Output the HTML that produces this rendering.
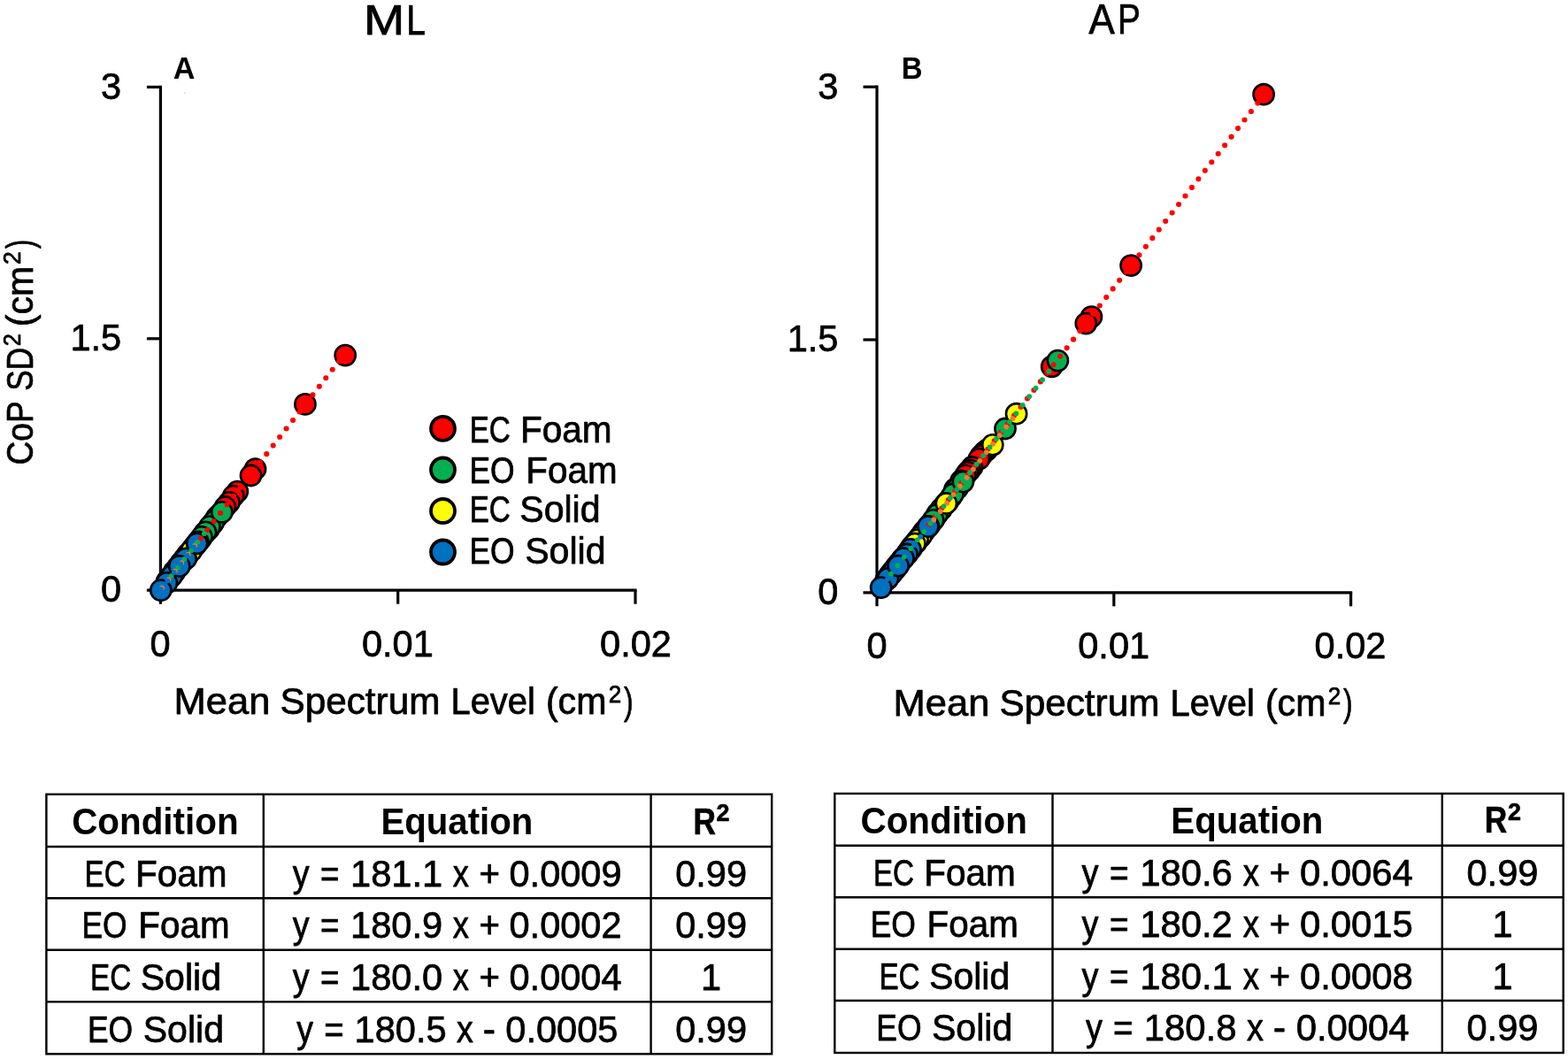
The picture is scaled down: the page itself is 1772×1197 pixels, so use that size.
<!DOCTYPE html>
<html lang="en">
<head>
<meta charset="utf-8">
<title>CoP SD vs Mean Spectrum Level</title>
<style>
html,body{margin:0;padding:0;background:#fff;}
body{width:1772px;height:1197px;overflow:hidden;}
svg{display:block;font-family:"Liberation Sans",sans-serif;font-kerning:none;}
text{white-space:pre;}
</style>
</head>
<body>
<svg width="1772" height="1197" viewBox="0 0 1772 1197">
<rect width="1772" height="1197" fill="#fff"/>
<g stroke="#000" stroke-width="3.20" fill="none" stroke-linecap="butt">
<path d="M181.40 96.80 V682.70"/>
<path d="M165.90 667.20 H719.60"/>
<path d="M165.90 98.40 H181.40"/>
<path d="M165.90 382.80 H181.40"/>
<path d="M449.70 667.20 V682.70"/>
<path d="M718.00 667.20 V682.70"/>
</g>
<g stroke="#000" stroke-width="2.60">
<circle cx="390.2" cy="401.6" r="11.60" fill="#ff0000"/>
<circle cx="344.9" cy="456.9" r="11.60" fill="#ff0000"/>
<circle cx="288.5" cy="530.2" r="11.60" fill="#ff0000"/>
<circle cx="283.5" cy="537.5" r="11.60" fill="#ff0000"/>
<circle cx="268.3" cy="555.6" r="11.60" fill="#ff0000"/>
<circle cx="263.8" cy="560.6" r="11.60" fill="#ff0000"/>
<circle cx="259.0" cy="567.8" r="11.60" fill="#ff0000"/>
<circle cx="254.5" cy="573.0" r="11.60" fill="#ff0000"/>
<circle cx="250.0" cy="579.5" r="11.60" fill="#ff0000"/>
<circle cx="245.0" cy="584.5" r="11.60" fill="#ff0000"/>
<circle cx="240.5" cy="591.6" r="11.60" fill="#ff0000"/>
<circle cx="236.0" cy="597.9" r="11.60" fill="#ff0000"/>
<circle cx="231.5" cy="602.1" r="11.60" fill="#ff0000"/>
<circle cx="227.0" cy="608.8" r="11.60" fill="#ff0000"/>
<circle cx="223.0" cy="613.0" r="11.60" fill="#ff0000"/>
<circle cx="219.7" cy="617.7" r="11.60" fill="#ff0000"/>
<circle cx="216.6" cy="621.6" r="11.60" fill="#ff0000"/>
<circle cx="212.8" cy="625.7" r="11.60" fill="#ff0000"/>
<circle cx="208.8" cy="630.8" r="11.60" fill="#ff0000"/>
<circle cx="204.9" cy="635.8" r="11.60" fill="#ff0000"/>
<circle cx="201.8" cy="640.4" r="11.60" fill="#ff0000"/>
<circle cx="197.1" cy="645.9" r="11.60" fill="#ff0000"/>
<circle cx="241.5" cy="589.8" r="11.60" fill="#00b050"/>
<circle cx="237.0" cy="595.1" r="11.60" fill="#00b050"/>
<circle cx="232.5" cy="601.4" r="11.60" fill="#00b050"/>
<circle cx="228.0" cy="606.9" r="11.60" fill="#00b050"/>
<circle cx="224.0" cy="612.5" r="11.60" fill="#00b050"/>
<circle cx="220.0" cy="617.3" r="11.60" fill="#00b050"/>
<circle cx="215.1" cy="623.5" r="11.60" fill="#00b050"/>
<circle cx="211.3" cy="628.9" r="11.60" fill="#00b050"/>
<circle cx="208.2" cy="632.7" r="11.60" fill="#00b050"/>
<circle cx="204.6" cy="636.3" r="11.60" fill="#00b050"/>
<circle cx="201.4" cy="640.7" r="11.60" fill="#00b050"/>
<circle cx="196.8" cy="646.4" r="11.60" fill="#00b050"/>
<circle cx="192.6" cy="652.4" r="11.60" fill="#00b050"/>
<circle cx="188.9" cy="657.1" r="11.60" fill="#00b050"/>
<circle cx="250.8" cy="578.9" r="11.60" fill="#00b050"/>
<circle cx="212.0" cy="626.8" r="11.60" fill="#ffff00"/>
<circle cx="208.6" cy="632.0" r="11.60" fill="#ffff00"/>
<circle cx="204.7" cy="636.4" r="11.60" fill="#ffff00"/>
<circle cx="200.6" cy="641.9" r="11.60" fill="#ffff00"/>
<circle cx="197.0" cy="647.0" r="11.60" fill="#ffff00"/>
<circle cx="192.6" cy="651.9" r="11.60" fill="#ffff00"/>
<circle cx="188.4" cy="657.6" r="11.60" fill="#ffff00"/>
<circle cx="216.2" cy="622.6" r="11.60" fill="#ffff00"/>
<circle cx="210.1" cy="631.4" r="11.60" fill="#0070c0"/>
<circle cx="194.5" cy="650.6" r="11.60" fill="#0070c0"/>
<circle cx="188.4" cy="658.8" r="11.60" fill="#0070c0"/>
<circle cx="222.6" cy="614.3" r="11.60" fill="#0070c0"/>
<circle cx="202.8" cy="639.9" r="11.60" fill="#0070c0"/>
<circle cx="181.8" cy="667.1" r="11.60" fill="#0070c0"/>
</g>
<path d="M383.19 408.25 L226.73 608.52" stroke="#ff0000" stroke-width="6.10" stroke-linecap="round" stroke-dasharray="0 12.10" fill="none"/>
<path d="M230.80 603.31 L193.52 651.02" stroke="#00b050" stroke-width="5.90" stroke-linecap="round" stroke-dasharray="0 12.10" fill="none"/>
<path d="M220.10 617.06 L182.82 664.78" stroke="#ed7d31" stroke-width="5.90" stroke-linecap="round" stroke-dasharray="0 12.10" fill="none"/>
<path d="M219.00 618.36 L181.72 666.08" stroke="#0070c0" stroke-width="5.90" stroke-linecap="round" stroke-dasharray="0 12.10" fill="none"/>
<g stroke="#000" stroke-width="3.20" fill="none" stroke-linecap="butt">
<path d="M991.00 96.60 V685.30"/>
<path d="M975.50 669.80 H1528.20"/>
<path d="M975.50 98.20 H991.00"/>
<path d="M975.50 384.00 H991.00"/>
<path d="M1258.80 669.80 V685.30"/>
<path d="M1526.60 669.80 V685.30"/>
</g>
<g stroke="#000" stroke-width="2.60">
<circle cx="1428.1" cy="106.7" r="11.60" fill="#ff0000"/>
<circle cx="1278.1" cy="300.1" r="11.60" fill="#ff0000"/>
<circle cx="1233.4" cy="358.1" r="11.60" fill="#ff0000"/>
<circle cx="1227.3" cy="365.6" r="11.60" fill="#ff0000"/>
<circle cx="1188.7" cy="414.3" r="11.60" fill="#ff0000"/>
<circle cx="1115.2" cy="508.7" r="11.60" fill="#ff0000"/>
<circle cx="1111.5" cy="512.0" r="11.60" fill="#ff0000"/>
<circle cx="1108.5" cy="515.4" r="11.60" fill="#ff0000"/>
<circle cx="1106.3" cy="518.9" r="11.60" fill="#ff0000"/>
<circle cx="1098.5" cy="528.0" r="11.60" fill="#ff0000"/>
<circle cx="1096.0" cy="531.3" r="11.60" fill="#ff0000"/>
<circle cx="1093.4" cy="533.8" r="11.60" fill="#ff0000"/>
<circle cx="1091.0" cy="537.3" r="11.60" fill="#ff0000"/>
<circle cx="1086.0" cy="543.5" r="11.60" fill="#ff0000"/>
<circle cx="1079.0" cy="553.0" r="11.60" fill="#ff0000"/>
<circle cx="1075.0" cy="561.6" r="11.60" fill="#ff0000"/>
<circle cx="1071.4" cy="566.6" r="11.60" fill="#ff0000"/>
<circle cx="1068.2" cy="569.9" r="11.60" fill="#ff0000"/>
<circle cx="1063.7" cy="575.2" r="11.60" fill="#ff0000"/>
<circle cx="1059.7" cy="580.2" r="11.60" fill="#ff0000"/>
<circle cx="1055.4" cy="586.9" r="11.60" fill="#ff0000"/>
<circle cx="1051.2" cy="592.4" r="11.60" fill="#ff0000"/>
<circle cx="1047.6" cy="596.8" r="11.60" fill="#ff0000"/>
<circle cx="1043.4" cy="601.9" r="11.60" fill="#ff0000"/>
<circle cx="1039.5" cy="607.4" r="11.60" fill="#ff0000"/>
<circle cx="1034.6" cy="613.1" r="11.60" fill="#ff0000"/>
<circle cx="1030.3" cy="618.0" r="11.60" fill="#ff0000"/>
<circle cx="1025.9" cy="624.5" r="11.60" fill="#ff0000"/>
<circle cx="1020.9" cy="631.2" r="11.60" fill="#ff0000"/>
<circle cx="1017.3" cy="635.1" r="11.60" fill="#ff0000"/>
<circle cx="1013.0" cy="640.1" r="11.60" fill="#ff0000"/>
<circle cx="1009.0" cy="645.4" r="11.60" fill="#ff0000"/>
<circle cx="1005.8" cy="649.3" r="11.60" fill="#ff0000"/>
<circle cx="1001.3" cy="655.3" r="11.60" fill="#ff0000"/>
<circle cx="1082.0" cy="552.0" r="11.60" fill="#00b050"/>
<circle cx="1077.0" cy="558.5" r="11.60" fill="#00b050"/>
<circle cx="1064.0" cy="575.6" r="11.60" fill="#00b050"/>
<circle cx="1058.8" cy="581.8" r="11.60" fill="#00b050"/>
<circle cx="1054.7" cy="587.8" r="11.60" fill="#00b050"/>
<circle cx="1049.5" cy="594.8" r="11.60" fill="#00b050"/>
<circle cx="1044.3" cy="600.7" r="11.60" fill="#00b050"/>
<circle cx="1040.3" cy="606.0" r="11.60" fill="#00b050"/>
<circle cx="1035.1" cy="613.5" r="11.60" fill="#00b050"/>
<circle cx="1031.7" cy="616.8" r="11.60" fill="#00b050"/>
<circle cx="1028.1" cy="621.4" r="11.60" fill="#00b050"/>
<circle cx="1023.9" cy="627.3" r="11.60" fill="#00b050"/>
<circle cx="1020.3" cy="631.2" r="11.60" fill="#00b050"/>
<circle cx="1016.2" cy="636.9" r="11.60" fill="#00b050"/>
<circle cx="1011.8" cy="643.4" r="11.60" fill="#00b050"/>
<circle cx="1007.1" cy="648.8" r="11.60" fill="#00b050"/>
<circle cx="1002.5" cy="654.9" r="11.60" fill="#00b050"/>
<circle cx="1195.4" cy="407.6" r="11.60" fill="#00b050"/>
<circle cx="1136.0" cy="484.5" r="11.60" fill="#00b050"/>
<circle cx="1088.4" cy="544.6" r="11.60" fill="#00b050"/>
<circle cx="1030.0" cy="620.1" r="11.60" fill="#ffff00"/>
<circle cx="1025.4" cy="626.0" r="11.60" fill="#ffff00"/>
<circle cx="1020.8" cy="631.1" r="11.60" fill="#ffff00"/>
<circle cx="1017.0" cy="635.5" r="11.60" fill="#ffff00"/>
<circle cx="1012.8" cy="640.9" r="11.60" fill="#ffff00"/>
<circle cx="1009.6" cy="645.2" r="11.60" fill="#ffff00"/>
<circle cx="1006.3" cy="649.6" r="11.60" fill="#ffff00"/>
<circle cx="1003.2" cy="653.1" r="11.60" fill="#ffff00"/>
<circle cx="1041.0" cy="605.9" r="11.60" fill="#ffff00"/>
<circle cx="1037.0" cy="610.1" r="11.60" fill="#ffff00"/>
<circle cx="1033.9" cy="614.5" r="11.60" fill="#ffff00"/>
<circle cx="1148.6" cy="467.7" r="11.60" fill="#ffff00"/>
<circle cx="1121.8" cy="502.8" r="11.60" fill="#ffff00"/>
<circle cx="1069.4" cy="569.0" r="11.60" fill="#ffff00"/>
<circle cx="1029.0" cy="620.8" r="11.60" fill="#0070c0"/>
<circle cx="1025.0" cy="626.5" r="11.60" fill="#0070c0"/>
<circle cx="1021.0" cy="631.1" r="11.60" fill="#0070c0"/>
<circle cx="1009.0" cy="646.9" r="11.60" fill="#0070c0"/>
<circle cx="1003.5" cy="653.8" r="11.60" fill="#0070c0"/>
<circle cx="1048.9" cy="595.1" r="11.60" fill="#0070c0"/>
<circle cx="1015.1" cy="639.6" r="11.60" fill="#0070c0"/>
<circle cx="995.7" cy="664.1" r="11.60" fill="#0070c0"/>
</g>
<path d="M1421.34 116.46 L1049.37 593.66" stroke="#ff0000" stroke-width="6.10" stroke-linecap="round" stroke-dasharray="0 12.10" fill="none"/>
<path d="M1144.43 473.20 L1055.14 587.76" stroke="#ed7d31" stroke-width="5.90" stroke-linecap="round" stroke-dasharray="0 12.10" fill="none"/>
<path d="M1047.64 597.28 L1002.98 654.58" stroke="#0070c0" stroke-width="5.90" stroke-linecap="round" stroke-dasharray="0 12.10" fill="none"/>
<path d="M1185.47 419.66 L1006.90 648.74" stroke="#00b050" stroke-width="5.90" stroke-linecap="round" stroke-dasharray="0 12.10" fill="none"/>
<circle cx="208.9" cy="105.1" r="0.9" fill="#d0d0d0"/>
<circle cx="500.5" cy="484.4" r="13.5" fill="#ff0000" stroke="#000" stroke-width="3.8"/>
<circle cx="500.5" cy="531.0" r="13.5" fill="#00b050" stroke="#000" stroke-width="3.8"/>
<circle cx="500.5" cy="577.5" r="13.5" fill="#ffff00" stroke="#000" stroke-width="3.8"/>
<circle cx="500.5" cy="624.0" r="13.5" fill="#0070c0" stroke="#000" stroke-width="3.8"/>
<text font-size="41.80" stroke="#000" stroke-width="0.75" stroke-linejoin="round" y="499.62"><tspan x="530.65" textLength="46.14" lengthAdjust="spacingAndGlyphs">EC</tspan> <tspan x="587.95" textLength="103.65" lengthAdjust="spacingAndGlyphs">Foam</tspan></text>
<text font-size="41.80" stroke="#000" stroke-width="0.75" stroke-linejoin="round" y="545.93"><tspan x="530.46" textLength="51.26" lengthAdjust="spacingAndGlyphs">EO</tspan> <tspan x="594.36" textLength="103.22" lengthAdjust="spacingAndGlyphs">Foam</tspan></text>
<text font-size="41.80" stroke="#000" stroke-width="0.75" stroke-linejoin="round" y="590.12"><tspan x="530.65" textLength="46.14" lengthAdjust="spacingAndGlyphs">EC</tspan> <tspan x="587.31" textLength="91.26" lengthAdjust="spacingAndGlyphs">Solid</tspan></text>
<text font-size="41.80" stroke="#000" stroke-width="0.75" stroke-linejoin="round" y="636.62"><tspan x="530.46" textLength="51.26" lengthAdjust="spacingAndGlyphs">EO</tspan> <tspan x="593.21" textLength="91.26" lengthAdjust="spacingAndGlyphs">Solid</tspan></text>
<text font-size="48.20" stroke="#000" stroke-width="0.75" stroke-linejoin="round" y="38.73"><tspan x="411.02" textLength="46.26" lengthAdjust="spacingAndGlyphs">M</tspan><tspan x="459.37" textLength="21.76" lengthAdjust="spacingAndGlyphs">L</tspan></text>
<text font-size="48.20" stroke="#000" stroke-width="0.75" stroke-linejoin="round" y="38.02"><tspan x="1230.39" textLength="29.22" lengthAdjust="spacingAndGlyphs">A</tspan><tspan x="1262.99" textLength="25.88" lengthAdjust="spacingAndGlyphs">P</tspan></text>
<text font-size="34.50" font-weight="700" y="88.90"><tspan x="195.65" textLength="24.65" lengthAdjust="spacingAndGlyphs">A</tspan></text>
<text font-size="34.50" font-weight="700" y="88.70"><tspan x="1018.80" textLength="23.80" lengthAdjust="spacingAndGlyphs">B</tspan></text>
<text font-size="41.80" stroke="#000" stroke-width="0.75" stroke-linejoin="round" y="111.62"><tspan x="114.10" textLength="23.10" lengthAdjust="spacingAndGlyphs" font-size="42.60">3</tspan></text>
<text font-size="41.80" stroke="#000" stroke-width="0.75" stroke-linejoin="round" y="395.83"><tspan x="79.45" textLength="57.75" lengthAdjust="spacingAndGlyphs" font-size="42.60">1.5</tspan></text>
<text font-size="41.80" stroke="#000" stroke-width="0.75" stroke-linejoin="round" y="680.43"><tspan x="114.10" textLength="23.10" lengthAdjust="spacingAndGlyphs" font-size="42.60">0</tspan></text>
<text font-size="41.80" stroke="#000" stroke-width="0.75" stroke-linejoin="round" y="741.52"><tspan x="169.45" textLength="23.10" lengthAdjust="spacingAndGlyphs" font-size="42.60">0</tspan></text>
<text font-size="41.80" stroke="#000" stroke-width="0.75" stroke-linejoin="round" y="741.52"><tspan x="408.97" textLength="80.85" lengthAdjust="spacingAndGlyphs" font-size="42.60">0.01</tspan></text>
<text font-size="41.80" stroke="#000" stroke-width="0.75" stroke-linejoin="round" y="741.52"><tspan x="678.08" textLength="80.85" lengthAdjust="spacingAndGlyphs" font-size="42.60">0.02</tspan></text>
<text font-size="41.80" stroke="#000" stroke-width="0.75" stroke-linejoin="round" y="111.82"><tspan x="924.30" textLength="23.10" lengthAdjust="spacingAndGlyphs" font-size="42.60">3</tspan></text>
<text font-size="41.80" stroke="#000" stroke-width="0.75" stroke-linejoin="round" y="397.43"><tspan x="889.65" textLength="57.75" lengthAdjust="spacingAndGlyphs" font-size="42.60">1.5</tspan></text>
<text font-size="41.80" stroke="#000" stroke-width="0.75" stroke-linejoin="round" y="683.23"><tspan x="924.30" textLength="23.10" lengthAdjust="spacingAndGlyphs" font-size="42.60">0</tspan></text>
<text font-size="41.80" stroke="#000" stroke-width="0.75" stroke-linejoin="round" y="744.02"><tspan x="979.45" textLength="23.10" lengthAdjust="spacingAndGlyphs" font-size="42.60">0</tspan></text>
<text font-size="41.80" stroke="#000" stroke-width="0.75" stroke-linejoin="round" y="744.02"><tspan x="1218.28" textLength="80.85" lengthAdjust="spacingAndGlyphs" font-size="42.60">0.01</tspan></text>
<text font-size="41.80" stroke="#000" stroke-width="0.75" stroke-linejoin="round" y="744.02"><tspan x="1485.58" textLength="80.85" lengthAdjust="spacingAndGlyphs" font-size="42.60">0.02</tspan></text>
<text font-size="41.80" stroke="#000" stroke-width="0.75" stroke-linejoin="round" y="807.12"><tspan x="196.61" textLength="108.85" lengthAdjust="spacingAndGlyphs">Mean</tspan> <tspan x="316.45" textLength="180.96" lengthAdjust="spacingAndGlyphs">Spectrum</tspan> <tspan x="509.51" textLength="95.29" lengthAdjust="spacingAndGlyphs">Level</tspan> <tspan x="616.92" textLength="68.51" lengthAdjust="spacingAndGlyphs">(cm</tspan><tspan x="687.67" textLength="14.47" lengthAdjust="spacingAndGlyphs" dy="-13.40" font-size="27.59">2</tspan><tspan x="704.89" textLength="10.61" lengthAdjust="spacingAndGlyphs" dy="13.40">)</tspan></text>
<text font-size="41.80" stroke="#000" stroke-width="0.75" stroke-linejoin="round" y="808.93"><tspan x="1009.61" textLength="108.85" lengthAdjust="spacingAndGlyphs">Mean</tspan> <tspan x="1129.45" textLength="180.96" lengthAdjust="spacingAndGlyphs">Spectrum</tspan> <tspan x="1322.51" textLength="95.29" lengthAdjust="spacingAndGlyphs">Level</tspan> <tspan x="1429.92" textLength="68.51" lengthAdjust="spacingAndGlyphs">(cm</tspan><tspan x="1500.67" textLength="14.47" lengthAdjust="spacingAndGlyphs" dy="-13.40" font-size="27.59">2</tspan><tspan x="1517.89" textLength="10.61" lengthAdjust="spacingAndGlyphs" dy="13.40">)</tspan></text>
<text font-size="41.80" stroke="#000" stroke-width="0.75" stroke-linejoin="round" transform="translate(36.90 0) rotate(-90)" y="-0.28"><tspan x="-525.41" textLength="72.09" lengthAdjust="spacingAndGlyphs">CoP</tspan> <tspan x="-441.72" textLength="48.94" lengthAdjust="spacingAndGlyphs">SD</tspan><tspan x="-391.30" textLength="14.10" lengthAdjust="spacingAndGlyphs" dy="-13.40" font-size="27.59">2</tspan> <tspan x="-369.18" textLength="68.51" lengthAdjust="spacingAndGlyphs" dy="13.40">(cm</tspan><tspan x="-298.97" textLength="14.83" lengthAdjust="spacingAndGlyphs" dy="-13.40" font-size="27.59">2</tspan><tspan x="-280.90" textLength="10.11" lengthAdjust="spacingAndGlyphs" dy="13.40">)</tspan></text>
<g stroke="#000" stroke-width="2.40" fill="none">
<rect x="52.40" y="897.80" width="819.80" height="293.50"/>
<path d="M52.40 957.00 H872.20"/>
<path d="M52.40 1015.30 H872.20"/>
<path d="M52.40 1073.70 H872.20"/>
<path d="M52.40 1132.40 H872.20"/>
<path d="M297.80 897.80 V1191.30"/>
<path d="M735.60 897.80 V1191.30"/>
</g>
<text font-size="43.00" font-weight="700" y="943.10"><tspan x="81.19" textLength="188.41" lengthAdjust="spacingAndGlyphs">Condition</tspan></text>
<text font-size="43.00" font-weight="700" y="943.10"><tspan x="430.41" textLength="171.98" lengthAdjust="spacingAndGlyphs">Equation</tspan></text>
<text font-size="42.60" font-weight="700" stroke="#000" stroke-width="0.60" stroke-linejoin="round" y="942.80"><tspan x="783.44" textLength="25.48" lengthAdjust="spacingAndGlyphs">R</tspan><tspan x="809.56" textLength="15.02" lengthAdjust="spacingAndGlyphs" dy="-14.80" font-size="28.33">2</tspan></text>
<text font-size="41.80" stroke="#000" stroke-width="0.75" stroke-linejoin="round" y="1001.93"><tspan x="95.60" textLength="46.14" lengthAdjust="spacingAndGlyphs">EC</tspan> <tspan x="152.90" textLength="103.65" lengthAdjust="spacingAndGlyphs">Foam</tspan></text>
<text font-size="41.80" stroke="#000" stroke-width="0.75" stroke-linejoin="round" y="1001.93"><tspan x="330.73" textLength="18.82" lengthAdjust="spacingAndGlyphs">y</tspan> <tspan x="362.03" textLength="21.46" lengthAdjust="spacingAndGlyphs">=</tspan> <tspan x="396.08" textLength="103.95" lengthAdjust="spacingAndGlyphs" font-size="42.60">181.1</tspan> <tspan x="511.72" textLength="18.15" lengthAdjust="spacingAndGlyphs">x</tspan> <tspan x="541.46" textLength="23.50" lengthAdjust="spacingAndGlyphs">+</tspan> <tspan x="575.53" textLength="127.05" lengthAdjust="spacingAndGlyphs" font-size="42.60">0.0009</tspan></text>
<text font-size="41.80" stroke="#000" stroke-width="0.75" stroke-linejoin="round" y="1001.93"><tspan x="763.18" textLength="80.85" lengthAdjust="spacingAndGlyphs" font-size="42.60">0.99</tspan></text>
<text font-size="41.80" stroke="#000" stroke-width="0.75" stroke-linejoin="round" y="1060.22"><tspan x="92.41" textLength="51.26" lengthAdjust="spacingAndGlyphs">EO</tspan> <tspan x="156.31" textLength="103.22" lengthAdjust="spacingAndGlyphs">Foam</tspan></text>
<text font-size="41.80" stroke="#000" stroke-width="0.75" stroke-linejoin="round" y="1060.22"><tspan x="330.73" textLength="18.82" lengthAdjust="spacingAndGlyphs">y</tspan> <tspan x="362.03" textLength="21.46" lengthAdjust="spacingAndGlyphs">=</tspan> <tspan x="396.08" textLength="103.95" lengthAdjust="spacingAndGlyphs" font-size="42.60">180.9</tspan> <tspan x="511.72" textLength="18.15" lengthAdjust="spacingAndGlyphs">x</tspan> <tspan x="541.46" textLength="23.50" lengthAdjust="spacingAndGlyphs">+</tspan> <tspan x="575.53" textLength="127.05" lengthAdjust="spacingAndGlyphs" font-size="42.60">0.0002</tspan></text>
<text font-size="41.80" stroke="#000" stroke-width="0.75" stroke-linejoin="round" y="1060.22"><tspan x="763.18" textLength="80.85" lengthAdjust="spacingAndGlyphs" font-size="42.60">0.99</tspan></text>
<text font-size="41.80" stroke="#000" stroke-width="0.75" stroke-linejoin="round" y="1118.92"><tspan x="102.10" textLength="46.14" lengthAdjust="spacingAndGlyphs">EC</tspan> <tspan x="158.76" textLength="91.26" lengthAdjust="spacingAndGlyphs">Solid</tspan></text>
<text font-size="41.80" stroke="#000" stroke-width="0.75" stroke-linejoin="round" y="1118.92"><tspan x="330.73" textLength="18.82" lengthAdjust="spacingAndGlyphs">y</tspan> <tspan x="362.03" textLength="21.46" lengthAdjust="spacingAndGlyphs">=</tspan> <tspan x="396.08" textLength="103.95" lengthAdjust="spacingAndGlyphs" font-size="42.60">180.0</tspan> <tspan x="511.72" textLength="18.15" lengthAdjust="spacingAndGlyphs">x</tspan> <tspan x="541.46" textLength="23.50" lengthAdjust="spacingAndGlyphs">+</tspan> <tspan x="575.53" textLength="127.05" lengthAdjust="spacingAndGlyphs" font-size="42.60">0.0004</tspan></text>
<text font-size="41.80" stroke="#000" stroke-width="0.75" stroke-linejoin="round" y="1118.92"><tspan x="792.05" textLength="23.10" lengthAdjust="spacingAndGlyphs" font-size="42.60">1</tspan></text>
<text font-size="41.80" stroke="#000" stroke-width="0.75" stroke-linejoin="round" y="1177.72"><tspan x="98.96" textLength="51.26" lengthAdjust="spacingAndGlyphs">EO</tspan> <tspan x="161.71" textLength="91.26" lengthAdjust="spacingAndGlyphs">Solid</tspan></text>
<text font-size="41.80" stroke="#000" stroke-width="0.75" stroke-linejoin="round" y="1177.72"><tspan x="335.23" textLength="18.71" lengthAdjust="spacingAndGlyphs">y</tspan> <tspan x="366.15" textLength="22.42" lengthAdjust="spacingAndGlyphs">=</tspan> <tspan x="400.58" textLength="103.95" lengthAdjust="spacingAndGlyphs" font-size="42.60">180.5</tspan> <tspan x="516.10" textLength="18.78" lengthAdjust="spacingAndGlyphs">x</tspan> <tspan x="545.72" textLength="14.25" lengthAdjust="spacingAndGlyphs">-</tspan> <tspan x="571.33" textLength="127.05" lengthAdjust="spacingAndGlyphs" font-size="42.60">0.0005</tspan></text>
<text font-size="41.80" stroke="#000" stroke-width="0.75" stroke-linejoin="round" y="1177.72"><tspan x="763.18" textLength="80.85" lengthAdjust="spacingAndGlyphs" font-size="42.60">0.99</tspan></text>
<g stroke="#000" stroke-width="2.40" fill="none">
<rect x="943.30" y="897.00" width="823.40" height="293.00"/>
<path d="M943.30 955.70 H1766.70"/>
<path d="M943.30 1014.20 H1766.70"/>
<path d="M943.30 1072.70 H1766.70"/>
<path d="M943.30 1131.00 H1766.70"/>
<path d="M1189.50 897.00 V1190.00"/>
<path d="M1629.80 897.00 V1190.00"/>
</g>
<text font-size="43.00" font-weight="700" y="941.70"><tspan x="972.49" textLength="188.41" lengthAdjust="spacingAndGlyphs">Condition</tspan></text>
<text font-size="43.00" font-weight="700" y="941.70"><tspan x="1323.36" textLength="171.98" lengthAdjust="spacingAndGlyphs">Equation</tspan></text>
<text font-size="42.60" font-weight="700" stroke="#000" stroke-width="0.60" stroke-linejoin="round" y="941.40"><tspan x="1677.79" textLength="25.48" lengthAdjust="spacingAndGlyphs">R</tspan><tspan x="1703.91" textLength="15.02" lengthAdjust="spacingAndGlyphs" dy="-14.80" font-size="28.33">2</tspan></text>
<text font-size="41.80" stroke="#000" stroke-width="0.75" stroke-linejoin="round" y="1000.52"><tspan x="986.90" textLength="46.14" lengthAdjust="spacingAndGlyphs">EC</tspan> <tspan x="1044.20" textLength="103.65" lengthAdjust="spacingAndGlyphs">Foam</tspan></text>
<text font-size="41.80" stroke="#000" stroke-width="0.75" stroke-linejoin="round" y="1000.52"><tspan x="1222.38" textLength="18.95" lengthAdjust="spacingAndGlyphs">y</tspan> <tspan x="1253.90" textLength="21.61" lengthAdjust="spacingAndGlyphs">=</tspan> <tspan x="1288.18" textLength="104.68" lengthAdjust="spacingAndGlyphs" font-size="42.60">180.6</tspan> <tspan x="1404.63" textLength="18.28" lengthAdjust="spacingAndGlyphs">x</tspan> <tspan x="1434.58" textLength="23.67" lengthAdjust="spacingAndGlyphs">+</tspan> <tspan x="1468.89" textLength="127.94" lengthAdjust="spacingAndGlyphs" font-size="42.60">0.0064</tspan></text>
<text font-size="41.80" stroke="#000" stroke-width="0.75" stroke-linejoin="round" y="1000.52"><tspan x="1657.53" textLength="80.85" lengthAdjust="spacingAndGlyphs" font-size="42.60">0.99</tspan></text>
<text font-size="41.80" stroke="#000" stroke-width="0.75" stroke-linejoin="round" y="1058.82"><tspan x="983.71" textLength="51.26" lengthAdjust="spacingAndGlyphs">EO</tspan> <tspan x="1047.61" textLength="103.22" lengthAdjust="spacingAndGlyphs">Foam</tspan></text>
<text font-size="41.80" stroke="#000" stroke-width="0.75" stroke-linejoin="round" y="1058.82"><tspan x="1222.38" textLength="18.95" lengthAdjust="spacingAndGlyphs">y</tspan> <tspan x="1253.90" textLength="21.61" lengthAdjust="spacingAndGlyphs">=</tspan> <tspan x="1288.18" textLength="104.68" lengthAdjust="spacingAndGlyphs" font-size="42.60">180.2</tspan> <tspan x="1404.63" textLength="18.28" lengthAdjust="spacingAndGlyphs">x</tspan> <tspan x="1434.58" textLength="23.67" lengthAdjust="spacingAndGlyphs">+</tspan> <tspan x="1468.89" textLength="127.94" lengthAdjust="spacingAndGlyphs" font-size="42.60">0.0015</tspan></text>
<text font-size="41.80" stroke="#000" stroke-width="0.75" stroke-linejoin="round" y="1058.82"><tspan x="1686.40" textLength="23.10" lengthAdjust="spacingAndGlyphs" font-size="42.60">1</tspan></text>
<text font-size="41.80" stroke="#000" stroke-width="0.75" stroke-linejoin="round" y="1117.52"><tspan x="993.40" textLength="46.14" lengthAdjust="spacingAndGlyphs">EC</tspan> <tspan x="1050.06" textLength="91.26" lengthAdjust="spacingAndGlyphs">Solid</tspan></text>
<text font-size="41.80" stroke="#000" stroke-width="0.75" stroke-linejoin="round" y="1117.52"><tspan x="1222.38" textLength="18.95" lengthAdjust="spacingAndGlyphs">y</tspan> <tspan x="1253.90" textLength="21.61" lengthAdjust="spacingAndGlyphs">=</tspan> <tspan x="1288.18" textLength="104.68" lengthAdjust="spacingAndGlyphs" font-size="42.60">180.1</tspan> <tspan x="1404.63" textLength="18.28" lengthAdjust="spacingAndGlyphs">x</tspan> <tspan x="1434.58" textLength="23.67" lengthAdjust="spacingAndGlyphs">+</tspan> <tspan x="1468.89" textLength="127.94" lengthAdjust="spacingAndGlyphs" font-size="42.60">0.0008</tspan></text>
<text font-size="41.80" stroke="#000" stroke-width="0.75" stroke-linejoin="round" y="1117.52"><tspan x="1686.40" textLength="23.10" lengthAdjust="spacingAndGlyphs" font-size="42.60">1</tspan></text>
<text font-size="41.80" stroke="#000" stroke-width="0.75" stroke-linejoin="round" y="1176.12"><tspan x="990.26" textLength="51.26" lengthAdjust="spacingAndGlyphs">EO</tspan> <tspan x="1053.01" textLength="91.26" lengthAdjust="spacingAndGlyphs">Solid</tspan></text>
<text font-size="41.80" stroke="#000" stroke-width="0.75" stroke-linejoin="round" y="1176.12"><tspan x="1226.91" textLength="18.85" lengthAdjust="spacingAndGlyphs">y</tspan> <tspan x="1258.05" textLength="22.58" lengthAdjust="spacingAndGlyphs">=</tspan> <tspan x="1292.72" textLength="104.68" lengthAdjust="spacingAndGlyphs" font-size="42.60">180.8</tspan> <tspan x="1409.05" textLength="18.91" lengthAdjust="spacingAndGlyphs">x</tspan> <tspan x="1438.88" textLength="14.36" lengthAdjust="spacingAndGlyphs">-</tspan> <tspan x="1464.66" textLength="127.94" lengthAdjust="spacingAndGlyphs" font-size="42.60">0.0004</tspan></text>
<text font-size="41.80" stroke="#000" stroke-width="0.75" stroke-linejoin="round" y="1176.12"><tspan x="1657.53" textLength="80.85" lengthAdjust="spacingAndGlyphs" font-size="42.60">0.99</tspan></text>
</svg>
</body>
</html>
